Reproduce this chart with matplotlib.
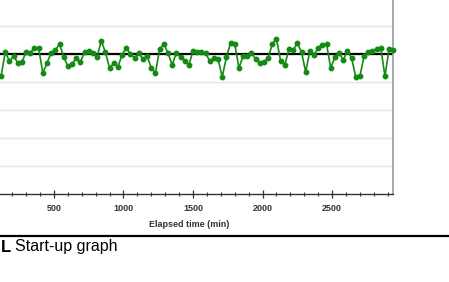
import matplotlib
matplotlib.use('Agg')
import matplotlib.pyplot as plt
from matplotlib.ticker import MultipleLocator

# readings every 30 min (visible part of the run)
elapsed_min = list(range(120, 2941, 30))
reading = [
    4.22, 5.08, 4.76, 4.94, 4.69, 4.73, 5.08, 5.05, 5.23, 5.23,
    4.33, 4.69, 5.05, 5.15, 5.37, 4.90, 4.58, 4.65, 4.87, 4.73,
    5.08, 5.12, 5.05, 4.90, 5.48, 5.08, 4.51, 4.69, 4.55, 4.98,
    5.23, 5.01, 4.87, 5.05, 4.83, 4.94, 4.51, 4.33, 5.19, 5.37,
    5.05, 4.62, 5.05, 4.90, 4.76, 4.62, 5.12, 5.08, 5.08, 5.05,
    4.76, 4.87, 4.83, 4.19, 4.90, 5.40, 5.37, 4.51, 4.94, 4.94,
    5.05, 4.83, 4.69, 4.73, 4.87, 5.37, 5.55, 4.76, 4.62, 5.19,
    5.15, 5.40, 5.08, 4.37, 5.12, 4.98, 5.23, 5.33, 5.37, 4.51,
    4.90, 5.05, 4.80, 5.12, 4.87, 4.19, 4.22, 4.94, 5.08, 5.12,
    5.19, 5.23, 4.22, 5.19, 5.15,
]
center = 5.0
x_ticks = [500, 1000, 1500, 2000, 2500]
x_label = 'Elapsed time (min)'
caption = 'Start-up graph'

W, H = 449, 282
fig = plt.figure(figsize=(W / 100, H / 100), dpi=100)

# axes is partly cropped off the left and top of the picture
left_px, right_px, bottom_px = -15.6, 393.3, 194.3
unit_px = 28.0
ymax = 7.5
ax = fig.add_axes([left_px / W, (H - bottom_px) / H,
                   (right_px - left_px) / W, ymax * unit_px / H])
ax.set_xlim(0, 2940)
ax.set_ylim(0, ymax)

for g in range(1, 8):
    ax.axhline(g, color='#e4e4e4', lw=1.0, zorder=0)
ax.axhline(center, color='black', lw=1.6, zorder=2)
ax.plot(elapsed_min, reading, color='#138a13', lw=1.2, marker='o',
        ms=3.2, mfc='#138a13', mec='#138a13', zorder=3, clip_on=False)

ax.spines['top'].set_visible(False)
ax.spines['left'].set_visible(False)
ax.spines['right'].set_color('#999999')
ax.spines['right'].set_linewidth(1.2)
ax.spines['bottom'].set_color('#333333')
ax.spines['bottom'].set_linewidth(1.0)

ax.set_yticks([])
ax.set_xticks(x_ticks)
ax.xaxis.set_minor_locator(MultipleLocator(100))
ax.tick_params(axis='x', which='major', direction='inout', length=6,
               width=0.9, color='#333333', pad=4)
ax.tick_params(axis='x', which='minor', direction='inout', length=3.5,
               width=0.8, color='#333333')
for lab in ax.get_xticklabels():
    lab.set_fontfamily('Liberation Sans')
    lab.set_fontweight('bold')
    lab.set_fontsize(6.5)
    lab.set_color('#333333')
ax.set_xlabel(x_label, fontfamily='Liberation Sans', fontweight='bold',
              fontsize=6.5, color='#333333', labelpad=5)

# rule and caption below the chart
fig.add_artist(plt.Line2D([0, 1], [1 - 236 / H, 1 - 236 / H], color='black',
                          lw=1.6, transform=fig.transFigure))
fig.text(0.5 / W, 1 - 247 / H, 'L', fontfamily='Liberation Sans',
         fontweight='bold', fontsize=12, va='center', ha='left')
fig.text(15 / W, 1 - 247 / H, caption, fontfamily='Liberation Sans',
         fontsize=11.5, va='center', ha='left')

fig.savefig('out.png', dpi=100)
